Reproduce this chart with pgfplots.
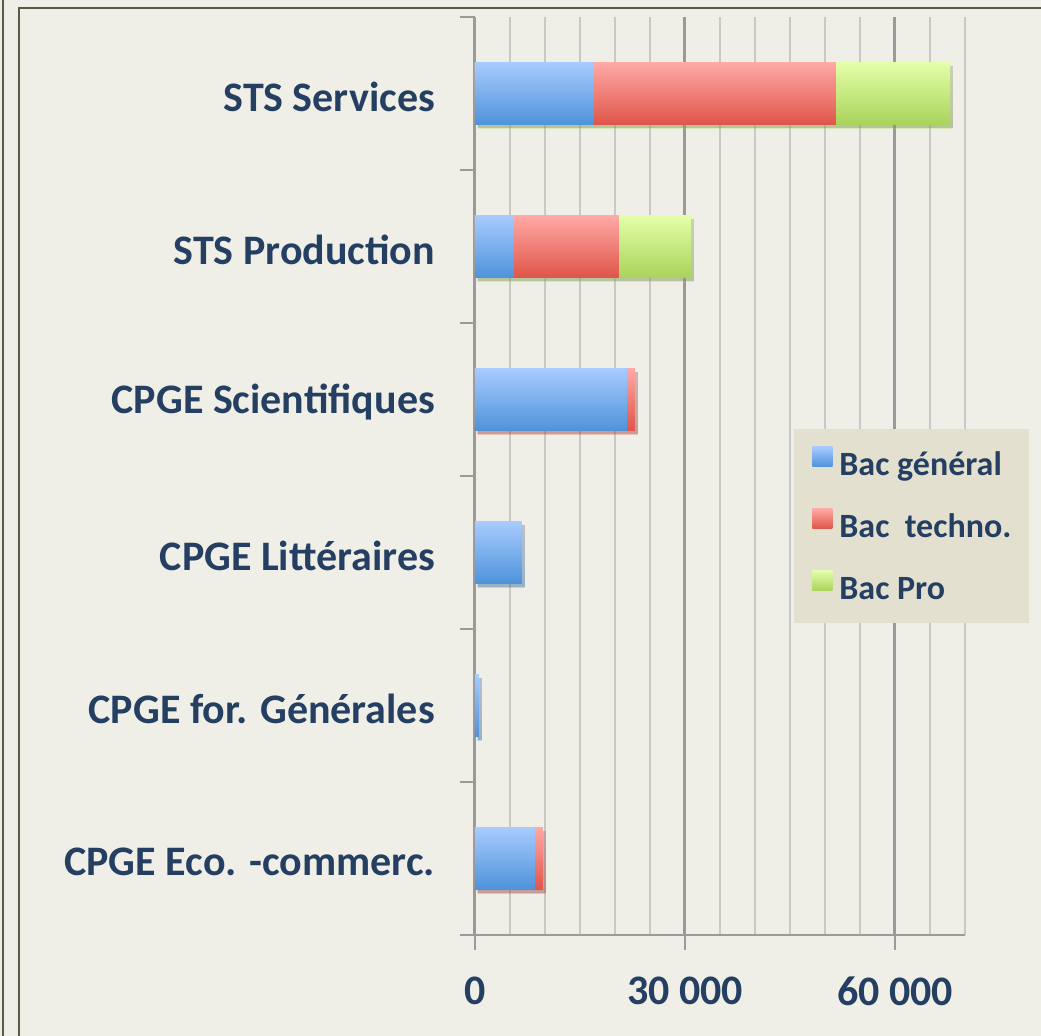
\documentclass[border=0pt]{standalone}
\usepackage{pgfplots}
\pgfplotsset{compat=1.18}
\usepackage{fontspec}
\setmainfont{Carlito}
\usetikzlibrary{shadows}

\definecolor{bgcol}{HTML}{EFEFE7}
\definecolor{legbg}{HTML}{E3E0CF}
\definecolor{framecol}{HTML}{5E5A40}
\definecolor{txtcol}{HTML}{253F62}
\definecolor{gridlight}{HTML}{C8C8C6}
\definecolor{griddark}{HTML}{9A9A9A}
\definecolor{blueT}{HTML}{A7CBFF}
\definecolor{blueB}{HTML}{4E93DA}
\definecolor{redT}{HTML}{FFA9A6}
\definecolor{redB}{HTML}{DF5549}
\definecolor{greenT}{HTML}{E3FFA9}
\definecolor{greenB}{HTML}{AAD35A}

\pgfplotsset{
  segment/.style={xbar, bar shift=0pt, bar width=0.405, draw=none, forget plot},
  gen/.style={segment, top color=blueT, bottom color=blueB},
  tech/.style={segment, top color=redT, bottom color=redB},
  pro/.style={segment, top color=greenT, bottom color=greenB},
  shadowed/.style={drop shadow={shadow xshift=1.3pt, shadow yshift=-1.8pt, opacity=0.3, fill=black!70}},
}

\begin{document}
\begin{tikzpicture}
\fill[bgcol] (0,0) rectangle (520.5pt,518pt);
\path[use as bounding box] (0,0) rectangle (520.5pt,518pt);
\draw[framecol, line width=1.2pt] (1.5pt,0) -- (1.5pt,518pt);
\draw[framecol, line width=1.2pt] (9.5pt,0) -- (9.5pt,514pt) -- (520.5pt,514pt);
\begin{axis}[
  at={(237.5pt,50.5pt)}, anchor=south west,
  scale only axis, width=245pt, height=459pt,
  xmin=0, xmax=70000, ymin=-0.5, ymax=5.5,
  axis lines*=left,
  axis line style={griddark, line width=1.2pt},
  tick align=outside, major tick length=7.5pt, minor tick length=0pt,
  tick style={griddark, line width=1pt},
  scaled x ticks=false,
  xtick={0,30000,60000}, xticklabels={0,30 000,60 000},
  minor xtick={5000,10000,...,70000},
  xmajorgrids, xminorgrids,
  major grid style={griddark, line width=1.5pt},
  minor grid style={gridlight, line width=1pt},
  ytick={-0.5,0.5,...,5.5}, yticklabels={,,,,,,},
  extra y ticks={0,1,2,3,4,5},
  extra y tick labels={CPGE Eco. -commerc.,CPGE for. Générales,CPGE Littéraires,CPGE Scientifiques,STS Production,STS Services},
  extra y tick style={major tick length=0pt},
  ticklabel style={font=\bfseries\fontsize{21}{25}\selectfont, text=txtcol},
  yticklabel style={xshift=-16.5pt, yshift=-1.5pt},
  xticklabel style={yshift=-10pt},
  legend style={at={(0.651,0.552)}, anchor=north west, draw=none, fill=legbg,
    inner xsep=9pt, inner ysep=9pt, row sep=14pt, column sep=3.5pt,
    nodes={inner sep=0pt, text height=13.5pt, text depth=2.5pt,
      font=\bfseries\fontsize{17}{20}\selectfont, text=txtcol}},
  legend cell align=left,
]
% bars drawn back to front: the longest (cumulated) segment first
% STS Services : general 17000, techno 34570, pro 16290
\addplot[pro, shadowed] coordinates {(67860,5)};
\addplot[tech] coordinates {(51570,5)};
\addplot[gen] coordinates {(17000,5)};
% STS Production : 5570, 15000, 10290
\addplot[pro, shadowed] coordinates {(30860,4)};
\addplot[tech] coordinates {(20570,4)};
\addplot[gen] coordinates {(5570,4)};
% CPGE Scientifiques : 21710, 1140
\addplot[tech, shadowed] coordinates {(22850,3)};
\addplot[gen] coordinates {(21710,3)};
% CPGE Litteraires : 6710
\addplot[gen, shadowed] coordinates {(6710,2)};
% CPGE for. generales : 570
\addplot[gen, shadowed] coordinates {(570,1)};
% CPGE Eco.-commerc. : 8570, 1140
\addplot[tech, shadowed] coordinates {(9710,0)};
\addplot[gen] coordinates {(8570,0)};
\addlegendimage{legend image code/.code={\path[draw=none, top color=blueT, bottom color=blueB] (0pt,-1pt) rectangle (10pt,9pt);}}
\addlegendentry{Bac général}
\addlegendimage{legend image code/.code={\path[draw=none, top color=redT, bottom color=redB] (0pt,-1pt) rectangle (10pt,9pt);}}
\addlegendentry{Bac\ \ techno.}
\addlegendimage{legend image code/.code={\path[draw=none, top color=greenT, bottom color=greenB] (0pt,-1pt) rectangle (10pt,9pt);}}
\addlegendentry{Bac Pro}
\end{axis}
\end{tikzpicture}
\end{document}
